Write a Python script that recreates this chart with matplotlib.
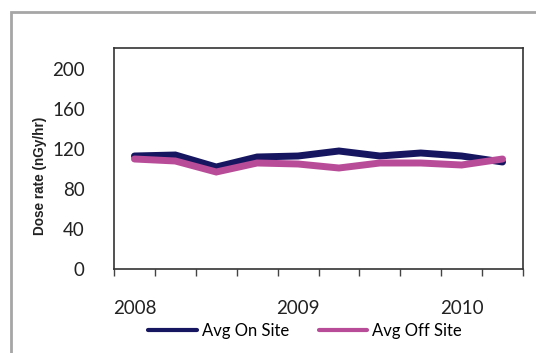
import matplotlib.pyplot as plt
import numpy as np
from matplotlib.patches import Rectangle

# Mittelwerte der Dosisleistung (nGy/hr), halbjaehrlich
on_site = [113, 114, 102, 112, 113, 118, 113, 116, 113, 107]
off_site = [110, 108, 97, 106, 105, 101, 106, 106, 104, 110]
year_labels = ["2008", "2009", "2010"]
label_idx = [0, 4, 8]
y_ticks = [0, 40, 80, 120, 160, 200]

plt.rcParams['font.family'] = ['Lato', 'DejaVu Sans']

fig = plt.figure(figsize=(5.36, 3.53), dpi=100)
ax = fig.add_axes([114/536, 1 - 269/353, (523 - 114)/536, (269 - 48)/353])

x = np.arange(len(on_site))
ax.plot(x, on_site, color="#161660", lw=5, solid_capstyle="round", solid_joinstyle="miter",
        label="Avg On Site", zorder=2)
ax.plot(x, off_site, color="#b94c99", lw=5, solid_capstyle="round", solid_joinstyle="miter",
        label="Avg Off Site", zorder=3)

ax.set_xlim(-0.5, len(on_site) - 0.5)
ax.set_ylim(0, 221)
ax.set_yticks(y_ticks)
ax.tick_params(axis="y", length=0, pad=21, labelsize=13.5, colors="#222222")

ax.set_xticks(label_idx)
ax.set_xticklabels(year_labels)
ax.set_xticks(np.arange(-0.5, len(on_site)), minor=True)
ax.tick_params(axis="x", which="major", length=0, pad=22, labelsize=13.5, colors="#222222")
ax.tick_params(axis="x", which="minor", length=5, width=1, color="#444444")

for s in ax.spines.values():
    s.set_linewidth(1.2)
    s.set_color("#333333")

fig.text(40/536, 1 - 176/353, "Dose rate (nGy/hr)", rotation=90, fontsize=9.8,
         fontweight="bold", family=["Liberation Sans", "DejaVu Sans"],
         ha="center", va="center", color="#222222")

leg = ax.legend(loc="center", bbox_to_anchor=(305/536, 1 - 331/353), bbox_transform=fig.transFigure,
                ncol=2, frameon=False, fontsize=12, handlelength=2.9, handletextpad=0.3,
                columnspacing=1.8)
for h in leg.get_lines():
    h.set_linewidth(3)
    h.set_solid_capstyle("round")

# grauer Rahmen um das Diagramm
fig.patches.append(Rectangle((11/536, -0.1), 1.2, 1 - 12/353 + 0.1, transform=fig.transFigure,
                             fill=False, edgecolor="#a6a6a6", lw=2))

plt.savefig("out.png", dpi=100)
